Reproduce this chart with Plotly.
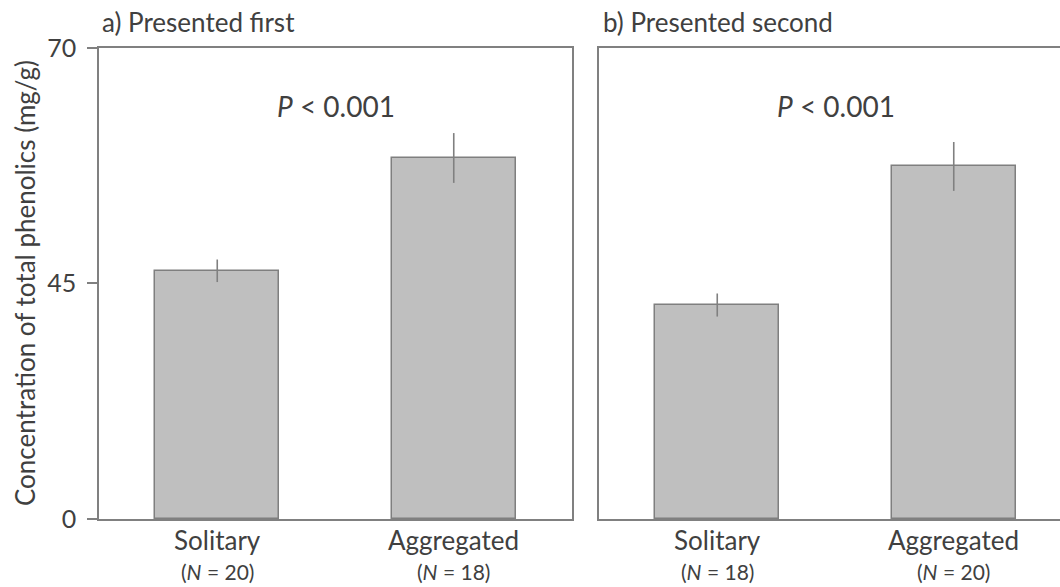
import plotly.graph_objects as go

# ---- data ----
categories = ["Solitary", "Aggregated"]
n_first = [20, 18]
n_second = [18, 20]
mean_first = [46.3, 58.3]
err_first = [1.2, 2.65]
mean_second = [40.8, 57.4]
err_second = [2.2, 2.6]
panel_titles = ["a) Presented first", "b) Presented second"]
p_text = "<i>P</i> &lt; 0.001"
y_ticks = [0, 45, 70]

# broken y axis: 0-45 and 45-70 each take half the height
BREAK, TOP = 45.0, 70.0
LOW_H, HIGH_H = 236.5, 235.5


def f(v):
    if v <= BREAK:
        return v / BREAK * LOW_H
    return LOW_H + (v - BREAK) / (TOP - BREAK) * HIGH_H


GRAY = "#808080"
TXT = "#404040"
FONT = "Lato"

fig = go.Figure()
xpos = list(range(len(categories)))

for i, (means, errs) in enumerate([(mean_first, err_first), (mean_second, err_second)]):
    ys = [f(m) for m in means]
    up = [f(m + e) - f(m) for m, e in zip(means, errs)]
    dn = [f(m) - f(m - e) for m, e in zip(means, errs)]
    fig.add_trace(go.Bar(
        x=xpos, y=ys, width=0.525,
        marker=dict(color="#bfbfbf", line=dict(color="#7f7f7f", width=1.5)),
        error_y=dict(type="data", array=up, arrayminus=dn, symmetric=False,
                     color=GRAY, thickness=1.6, width=0),
        xaxis="x" if i == 0 else "x2", yaxis="y" if i == 0 else "y2",
        showlegend=False, hoverinfo="skip",
    ))

H = LOW_H + HIGH_H
W = 961.0
PA = 472.0  # plot height px
d1 = [0, 473 / W]
d2 = [500 / W, 1]
r2 = [-0.5, -0.5 + 2 * (W - 500) / 473]

axis_common = dict(showgrid=False, zeroline=False, linecolor=GRAY, linewidth=1.5)
fig.update_layout(
    width=1060, height=587,
    margin=dict(l=99, r=0, t=47.5, b=67.5),
    paper_bgcolor="white", plot_bgcolor="white",
    font=dict(family=FONT, color=TXT, size=22),
    xaxis=dict(domain=d1, range=[-0.5, 1.5], showline=True, mirror=True,
               showticklabels=False, ticks="", **axis_common),
    xaxis2=dict(domain=d2, range=r2, showline=True, mirror=True,
                showticklabels=False, ticks="", anchor="y2", **axis_common),
    yaxis=dict(range=[0, H], showline=True, mirror=True,
               tickvals=[f(v) for v in y_ticks], ticktext=[str(v) for v in y_ticks],
               ticks="outside", ticklen=10, tickwidth=1.5, tickcolor=GRAY,
               ticklabelstandoff=6, tickfont=dict(size=25, color=TXT), **axis_common),
    yaxis2=dict(range=[0, H], showline=True, mirror=False, showticklabels=False,
                ticks="", anchor="x2", **axis_common),
    bargap=0,
)

ann = []
# y-axis title
ann.append(dict(text="Concentration of total phenolics (mg/g)", textangle=-90,
                xref="paper", yref="paper", x=(25 - 99) / W, y=(519.5 - 283) / PA,
                xanchor="center", yanchor="middle", showarrow=False,
                font=dict(size=26, color=TXT)))
for i, (xr, ns) in enumerate([("x", n_first), ("x2", n_second)]):
    left = 100 if i == 0 else 601
    ann.append(dict(text=panel_titles[i], xref="paper", yref="paper",
                    x=(left - 99) / W, y=(519.5 - 21) / PA, xanchor="left",
                    yanchor="middle", showarrow=False, font=dict(size=26, color=TXT)))
    ann.append(dict(text=p_text, xref=xr, yref="paper", x=0.5,
                    y=(519.5 - 106) / PA, xanchor="center", yanchor="middle",
                    showarrow=False, font=dict(size=28, color=TXT)))
    for j, cat in enumerate(categories):
        ann.append(dict(text=cat, xref=xr, yref="paper", x=xpos[j],
                        y=(519.5 - 541) / PA, xanchor="center", yanchor="middle",
                        showarrow=False, font=dict(size=26, color=TXT)))
        ann.append(dict(text=f"(<i>N</i> = {ns[j]})", xref=xr, yref="paper", x=xpos[j],
                        y=(519.5 - 572) / PA, xanchor="center", yanchor="middle",
                        showarrow=False, font=dict(size=21, color=TXT)))
fig.update_layout(annotations=ann)

fig.write_html("out.html")
